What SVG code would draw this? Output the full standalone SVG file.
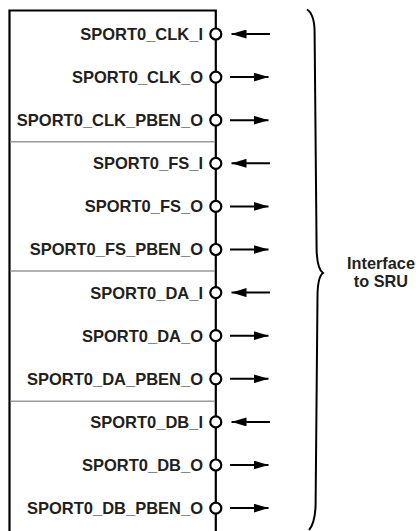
<svg xmlns="http://www.w3.org/2000/svg" width="416" height="531" viewBox="0 0 416 531">
<defs>
<style>
.lbl{font-family:"Liberation Sans",Arial,sans-serif;font-weight:bold;font-size:16.5px;fill:#231f20;text-anchor:end}
.side{font-family:"Liberation Sans",Arial,sans-serif;font-weight:bold;font-size:16.3px;fill:#231f20;text-anchor:middle}
.box{fill:none;stroke:#000;stroke-width:2.2}
.sep{stroke:#999;stroke-width:1.5}
.pin{fill:#fff;stroke:#000;stroke-width:2.2}
.arr{stroke:#000;stroke-width:2;fill:none}
.brace{fill:none;stroke:#000;stroke-width:2}
</style>
<marker id="ah" viewBox="0 0 15 9" refX="15" refY="4.5" markerWidth="15" markerHeight="9" markerUnits="userSpaceOnUse" orient="auto">
<path d="M0,0 L15,4.5 L0,9 Z" fill="#000"/>
</marker>
</defs>
<g id="block">
<path class="box" d="M9.5,540 V10.5 H215.8 V540"/>
<line class="sep" x1="10.5" y1="141.7" x2="215" y2="141.7"/>
<line class="sep" x1="10.5" y1="271" x2="215" y2="271"/>
<line class="sep" x1="10.5" y1="401.3" x2="215" y2="401.3"/>
</g>
<g id="pin-clk-i"><text class="lbl" x="203" y="39.9">SPORT0_CLK_I</text><circle class="pin" cx="215.8" cy="34" r="5.5"/></g>
<g id="pin-clk-o"><text class="lbl" x="203" y="83">SPORT0_CLK_O</text><circle class="pin" cx="215.8" cy="77.1" r="5.5"/></g>
<g id="pin-clk-pben-o"><text class="lbl" x="203" y="126.1">SPORT0_CLK_PBEN_O</text><circle class="pin" cx="215.8" cy="120.2" r="5.5"/></g>
<g id="pin-fs-i"><text class="lbl" x="203" y="169.2">SPORT0_FS_I</text><circle class="pin" cx="215.8" cy="163.3" r="5.5"/></g>
<g id="pin-fs-o"><text class="lbl" x="203" y="212.3">SPORT0_FS_O</text><circle class="pin" cx="215.8" cy="206.4" r="5.5"/></g>
<g id="pin-fs-pben-o"><text class="lbl" x="203" y="255.4">SPORT0_FS_PBEN_O</text><circle class="pin" cx="215.8" cy="249.5" r="5.5"/></g>
<g id="pin-da-i"><text class="lbl" x="203" y="298.5">SPORT0_DA_I</text><circle class="pin" cx="215.8" cy="292.6" r="5.5"/></g>
<g id="pin-da-o"><text class="lbl" x="203" y="341.6">SPORT0_DA_O</text><circle class="pin" cx="215.8" cy="335.7" r="5.5"/></g>
<g id="pin-da-pben-o"><text class="lbl" x="203" y="384.7">SPORT0_DA_PBEN_O</text><circle class="pin" cx="215.8" cy="378.8" r="5.5"/></g>
<g id="pin-db-i"><text class="lbl" x="203" y="427.8">SPORT0_DB_I</text><circle class="pin" cx="215.8" cy="421.9" r="5.5"/></g>
<g id="pin-db-o"><text class="lbl" x="203" y="470.9">SPORT0_DB_O</text><circle class="pin" cx="215.8" cy="465" r="5.5"/></g>
<g id="pin-db-pben-o"><text class="lbl" x="203" y="514">SPORT0_DB_PBEN_O</text><circle class="pin" cx="215.8" cy="508.1" r="5.5"/></g>
<g id="connectors">
<line class="arr" x1="270" y1="34" x2="231.5" y2="34" marker-end="url(#ah)"/>
<line class="arr" x1="230" y1="77.1" x2="268.5" y2="77.1" marker-end="url(#ah)"/>
<line class="arr" x1="230" y1="120.2" x2="268.5" y2="120.2" marker-end="url(#ah)"/>
<line class="arr" x1="270" y1="163.3" x2="231.5" y2="163.3" marker-end="url(#ah)"/>
<line class="arr" x1="230" y1="206.4" x2="268.5" y2="206.4" marker-end="url(#ah)"/>
<line class="arr" x1="230" y1="249.5" x2="268.5" y2="249.5" marker-end="url(#ah)"/>
<line class="arr" x1="270" y1="292.6" x2="231.5" y2="292.6" marker-end="url(#ah)"/>
<line class="arr" x1="230" y1="335.7" x2="268.5" y2="335.7" marker-end="url(#ah)"/>
<line class="arr" x1="230" y1="378.8" x2="268.5" y2="378.8" marker-end="url(#ah)"/>
<line class="arr" x1="270" y1="421.9" x2="231.5" y2="421.9" marker-end="url(#ah)"/>
<line class="arr" x1="230" y1="465" x2="268.5" y2="465" marker-end="url(#ah)"/>
<line class="arr" x1="230" y1="508.1" x2="268.5" y2="508.1" marker-end="url(#ah)"/>
</g>
<g id="sru">
<path class="brace" d="M307,9.5 C312.5,13 314.5,20 314.6,32 L316.6,250 C317,262 318.5,270 323,273 C318.8,276 317.6,284 317.5,296 L315.6,505 C315.2,518 312.5,526 309,530"/>
<text class="side" x="381" y="268.5">Interface</text>
<text class="side" x="381" y="287">to SRU</text>
</g>
</svg>
